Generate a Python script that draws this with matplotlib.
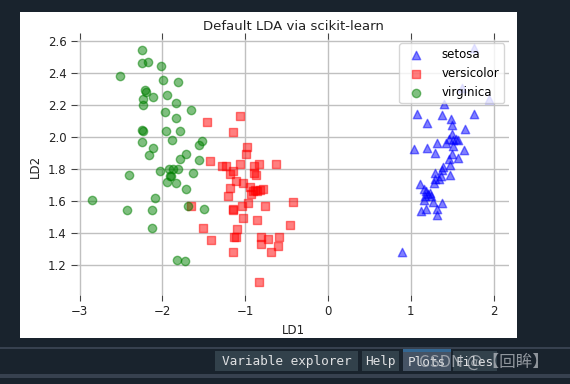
import matplotlib
matplotlib.use('Agg')
import matplotlib.pyplot as plt
from matplotlib.patches import Rectangle

# -----------------------------------------------------
# data (LD1, LD2 per class)
# -----------------------------------------------------

setosa_x = [1.769, 1.618, 1.948, 1.395, 1.078, 1.373, 1.767, 1.482, 1.192, 1.501,
            1.655, 1.494, 1.465, 1.513, 1.574, 1.546, 1.316, 1.425, 1.506, 1.039,
            1.192, 1.289, 1.643, 1.501, 1.461, 1.566, 1.473, 1.393, 1.380, 1.289,
            1.473, 1.361, 1.344, 1.289, 1.277, 1.111, 1.159, 1.187, 1.211, 1.248,
            1.171, 1.159, 1.264, 1.373, 1.120, 1.180, 1.313, 1.316, 0.894, 1.232]
setosa_y = [2.556, 2.306, 2.236, 2.206, 2.144, 2.136, 2.144, 2.113, 2.089, 2.073,
            2.048, 2.017, 1.986, 1.981, 1.981, 1.986, 1.964, 1.964, 1.944, 1.923,
            1.929, 1.902, 1.919, 1.892, 1.861, 1.871, 1.825, 1.811, 1.794, 1.777,
            1.763, 1.756, 1.736, 1.736, 1.711, 1.706, 1.673, 1.664, 1.644, 1.631,
            1.631, 1.606, 1.594, 1.586, 1.539, 1.548, 1.548, 1.513, 1.279, 1.650]

versicolor_x = [-1.063, -1.458, -1.151, -0.982, -0.994, -1.421, -1.277, -1.236, -1.063, -0.894,
                -0.837, -0.628, -1.144, -1.184, -0.894, -0.870, -1.111, -1.030, -1.184, -0.942,
                -0.909, -0.861, -0.821, -0.781, -0.926, -1.204, -0.966, -0.419, -1.042, -1.151,
                -1.144, -0.757, -1.658, -1.023, -0.854, -0.459, -1.506, -1.095, -1.135, -1.111,
                -0.813, -0.813, -0.725, -0.588, -1.417, -0.604, -0.685, -1.151, -0.830, -0.882]
versicolor_y = [2.129, 2.092, 2.029, 1.939, 1.896, 1.852, 1.817, 1.817, 1.831, 1.819,
                1.831, 1.831, 1.786, 1.769, 1.777, 1.764, 1.723, 1.714, 1.683, 1.686,
                1.664, 1.664, 1.669, 1.677, 1.644, 1.633, 1.589, 1.596, 1.569, 1.550,
                1.544, 1.567, 1.569, 1.494, 1.479, 1.448, 1.429, 1.423, 1.377, 1.377,
                1.375, 1.331, 1.361, 1.377, 1.354, 1.319, 1.281, 1.281, 1.094, 1.672]

virginica_x = [-2.250, -2.250, -2.178, -2.011, -2.506, -1.996, -1.815, -2.207, -2.192, -2.110,
               -2.238, -1.950, -1.839, -2.238, -1.971, -1.839, -1.655, -2.246, -2.234, -1.953,
               -1.784, -1.884, -2.250, -2.108, -2.165, -1.518, -1.558, -1.715, -1.784, -1.558,
               -2.407, -2.029, -1.914, -1.868, -1.812, -1.896, -1.944, -1.839, -1.715, -1.630,
               -2.844, -2.095, -1.685, -1.492, -2.431, -2.126, -2.123, -1.818, -1.727, -1.902]
virginica_y = [2.544, 2.464, 2.471, 2.444, 2.384, 2.355, 2.346, 2.296, 2.284, 2.252,
               2.238, 2.261, 2.211, 2.203, 2.158, 2.121, 2.172, 2.041, 2.036, 2.036,
               2.036, 1.983, 1.969, 1.931, 1.888, 1.977, 1.953, 1.894, 1.861, 1.858,
               1.764, 1.786, 1.802, 1.802, 1.802, 1.754, 1.719, 1.713, 1.675, 1.778,
               1.604, 1.620, 1.572, 1.552, 1.544, 1.544, 1.433, 1.231, 1.226, 1.759]

xticks = [-3, -2, -1, 0, 1, 2]
yticks = [1.2, 1.4, 1.6, 1.8, 2.0, 2.2, 2.4, 2.6]

tabs = ['Variable explorer', 'Help', 'Plots', 'Files']

# -----------------------------------------------------
# figure in pixel units (screenshot of the IDE pane)
# -----------------------------------------------------

W, H = 570, 384
fig = plt.figure(figsize=(W / 100, H / 100), dpi=100, facecolor='#19232d')


def box(x0, y0, x1, y1, color, z=-5, **kw):
    r = Rectangle((x0 / W, 1 - y1 / H), (x1 - x0) / W, (y1 - y0) / H,
                  transform=fig.transFigure, facecolor=color, edgecolor='none',
                  zorder=z, **kw)
    fig.add_artist(r)
    return r


# white plot panel
box(20, 12, 517, 338, 'white')

ax = fig.add_axes([77 / W, 1 - 295 / H, (509 - 77) / W, (295 - 38.5) / H])
ax.set_facecolor('white')

ax.scatter(setosa_x, setosa_y, marker='^', color='blue', alpha=0.5, s=36, label='setosa')
ax.scatter(versicolor_x, versicolor_y, marker='s', color='red', alpha=0.5, s=36, label='versicolor')
ax.scatter(virginica_x, virginica_y, marker='o', color='green', alpha=0.5, s=36, label='virginica')

ax.set_xlim(-3.031, 2.186)
ax.set_ylim(1.0125, 2.616)
ax.set_xticks(xticks)
ax.set_yticks(yticks)
ax.set_yticklabels(['%.1f' % v for v in yticks])

for s in ax.spines.values():
    s.set_visible(False)
ax.grid(True, color='#c0c0c0', linewidth=1)
ax.set_axisbelow(True)
ax.tick_params(axis='x', top=True, labeltop=False, direction='out', length=4,
               color='#444444', labelsize=8.5, labelcolor='#222222')
ax.tick_params(axis='y', direction='out', length=4, color='#444444',
               labelsize=8.5, labelcolor='#222222')

ax.set_title('Default LDA via scikit-learn', fontsize=9.5, color='#222222')
ax.set_xlabel('LD1', fontsize=8.5, color='#222222')
ax.set_ylabel('LD2', fontsize=8.5, color='#222222')
ax.legend(loc='upper right', fontsize=8.5, borderaxespad=0.4, handletextpad=1.2)

# -----------------------------------------------------
# bottom tab bar of the IDE
# -----------------------------------------------------

box(0, 347, W, 349, '#37414f')
box(0, 374, W, 378, '#37414f')
tab_spans = [(215, 358), (362, 399), (403, 451), (453, 497)]
for name, (x0, x1) in zip(tabs, tab_spans):
    col = '#455364' if name == 'Plots' else '#32414b'
    box(x0, 351, x1, 371, col)
    if name == 'Plots':
        box(x0, 349, x1, 352, '#346792')
    fig.text((x0 + x1) / 2 / W, 1 - 362 / H, name, ha='center', va='center',
             family='DejaVu Sans Mono', fontsize=9.2, color='#e0e1e3')

fig.text(484 / W, 1 - 362 / H, 'CSDN @【回眸】', ha='center', va='center',
         family=['Noto Sans CJK SC', 'DejaVu Sans'], fontsize=12,
         color='#b8bcc2', alpha=0.75)

plt.savefig('out.png', dpi=100, facecolor=fig.get_facecolor())
